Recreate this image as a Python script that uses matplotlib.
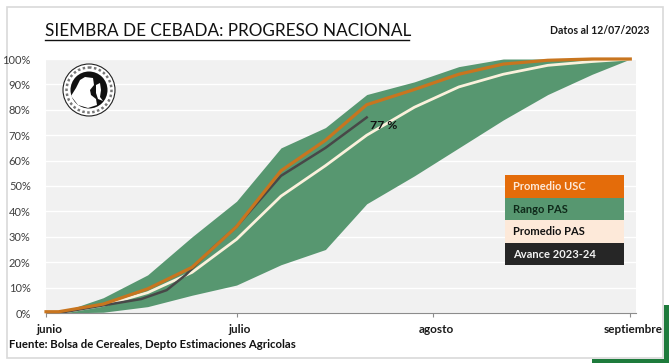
import matplotlib
matplotlib.use("Agg")
import matplotlib.pyplot as plt
from matplotlib.patches import Rectangle, Circle, Polygon
from matplotlib.transforms import Affine2D

W, H = 669, 363

# dias desde el 1 de junio
dias = [0, 2, 9, 16, 23, 30, 37, 44, 50.5, 58, 65, 72, 79, 86, 92]
rango_max = [0, 0, 6, 15, 30, 44, 65, 73, 86, 91, 97, 100, 100, 100, 100]
rango_min = [0, 0, 0.3, 2.5, 7, 11, 19, 25, 43, 54, 65, 76, 86, 94, 100]
promedio_usc = [0.5, 0.5, 3.5, 9.5, 18, 34, 56, 68, 82, 88, 94, 98, 99.5, 100, 100]
promedio_pas = [0, 0, 3, 8, 16, 29, 46, 58, 70, 81, 89, 94, 97.5, 99, 100]

dias_avance = [0, 2, 9, 15, 19, 22, 26, 30, 37, 44, 50.5]
avance = [0, 0, 3, 5.5, 9, 15, 25, 34, 54, 65, 77]

tick_dias = [0, 30, 61, 92]
tick_meses = ["junio", "julio", "agosto", "septiembre"]
y_ticks = list(range(0, 101, 10))

leyenda = ["Promedio USC", "Rango PAS", "Promedio PAS", "Avance 2023-24"]
leyenda_fondo = ["#E46C0A", "#579770", "#FDE9D9", "#262626"]
leyenda_texto = ["#FDE9D9", "#0F2A1A", "#111111", "#F2F2F2"]

plt.rcParams["font.family"] = ["Lato", "DejaVu Sans"]

fig = plt.figure(figsize=(W / 100, H / 100), dpi=100)
fig.patch.set_facecolor("white")

# coordenadas en pixeles de la imagen (origen arriba a la izquierda)
px = Affine2D().scale(1, -1).translate(0, H)

# esquina verde y marco de la diapositiva (debajo de los ejes)
fig.add_artist(Rectangle((592, 305), 77, 58, transform=px, fc="#1E7B3C", ec="none", zorder=-3))
fig.add_artist(Rectangle((0, 0), 664, 359, transform=px, fc="white", ec="none", zorder=-2))
fig.add_artist(Rectangle((7, 7), 656, 351, transform=px, fc="white", ec="#D9D9D9", lw=1.2, zorder=-1))

ax = fig.add_axes([46 / W, (H - 313) / H, (636 - 46) / W, (313 - 59) / H])
ax.set_facecolor("#F1F1F1")
ax.set_xlim(0, 92.9)
ax.set_ylim(0, 100)

ax.grid(axis="y", color="white", lw=1)
ax.set_axisbelow(True)
ax.fill_between(dias, rango_min, rango_max, color="#579770", lw=0, zorder=2)
ax.plot(dias, promedio_pas, color="#FBF1DC", lw=2.0, zorder=3, solid_joinstyle="round")
ax.plot(dias_avance, avance, color="#484848", lw=1.8, zorder=4, solid_joinstyle="round")
ax.plot(dias, promedio_usc, color="#C8751F", lw=2.3, zorder=5, solid_joinstyle="round",
        clip_on=False)
ax.text(51, 73.8, "77 %", fontsize=8.8, fontweight="bold", color="#111111",
        va="center", zorder=6)

for s in ["top", "left", "right"]:
    ax.spines[s].set_visible(False)
ax.spines["bottom"].set_color("#8C8C8C")

ax.set_xticks(tick_dias)
ax.set_xticklabels(tick_meses, fontsize=8.5, fontweight="bold", color="#1A1A1A")
ax.tick_params(axis="x", length=3, color="#8C8C8C", pad=5)
# las etiquetas de mes van un poco corridas a la derecha
for lab in ax.get_xticklabels():
    lab.set_transform(lab.get_transform() + Affine2D().translate(3, 0))
ax.set_yticks(y_ticks)
ax.set_yticklabels([f"{v}%" for v in y_ticks], fontsize=8, color="#404040")
ax.tick_params(axis="y", length=0, pad=11)

# titulo subrayado
fig.text(45 / W, 1 - 31 / H, "SIEMBRA DE CEBADA: PROGRESO NACIONAL", fontsize=12.3,
         color="#111111", va="center", ha="left")
fig.add_artist(plt.Line2D([45, 409], [40, 40], transform=px, color="#111111", lw=1))
fig.text(649 / W, 1 - 30 / H, "Datos al 12/07/2023", fontsize=7.6, fontweight="bold",
         color="#1A1A1A", va="center", ha="right")
fig.text(9 / W, 1 - 345 / H, "Fuente: Bolsa de Cereales, Depto Estimaciones Agricolas",
         fontsize=8.2, fontweight="bold", color="#111111", va="center", ha="left")

# leyenda hecha de cajas
cajas = [(175, 198), (198, 220), (220, 243), (243, 265)]
for nombre, fondo, color, (y0, y1) in zip(leyenda, leyenda_fondo, leyenda_texto, cajas):
    fig.add_artist(Rectangle((505, y0), 119, y1 - y0, transform=px, fc=fondo, ec="none", zorder=6))
    fig.text(513 / W, 1 - (y0 + y1) / 2 / H, nombre, fontsize=8, fontweight="bold",
             color=color, va="center", ha="left", zorder=7)

# logo redondo
cx, cy = 89, 90
fig.add_artist(Circle((cx, cy), 26, transform=px, fc="white", ec="#222222", lw=0.8, zorder=6))
fig.add_artist(Circle((cx, cy), 18.5, transform=px, fc="#111111", ec="none", zorder=6))
fig.add_artist(Circle((cx, cy), 22.5, transform=px, fc="none", ec="#777777", lw=1.8,
                      ls=(0, (1, 1)), zorder=6))
busto = [(71, 96), (76, 88), (80, 80), (85, 77), (93, 78), (94, 85), (90, 90), (91, 95),
         (96, 99), (97, 105), (88, 108), (78, 105)]
fig.add_artist(Polygon(busto, transform=px, fc="white", ec="none", zorder=7))
brazo = [(96, 85), (100, 83), (101, 90), (100, 97), (103, 101), (98, 99), (96, 93)]
fig.add_artist(Polygon(brazo, transform=px, fc="white", ec="none", zorder=7))

fig.savefig("out.png", dpi=100)
